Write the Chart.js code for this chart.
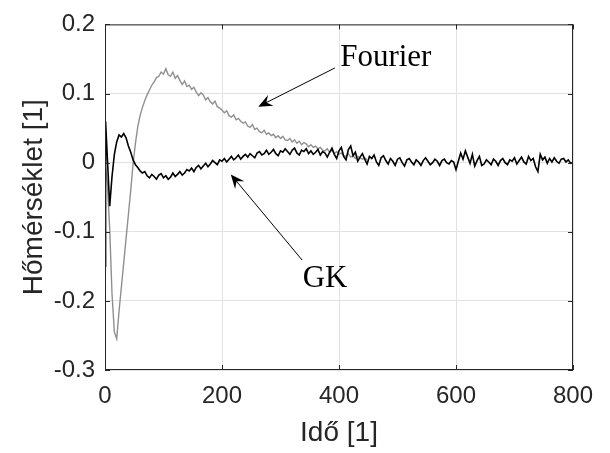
<!DOCTYPE html>
<html>
<head>
<meta charset="utf-8">
<script src="https://cdn.jsdelivr.net/npm/chart.js@4"></script>
<style>
  body { margin: 0; background: #fff; }
  #chart { display: block; }
</style>
</head>
<body>
<canvas id="chart" width="610" height="453"></canvas>
<script>
// GK: two early samples, then every 4 time units from t=8
const gkHeadTime = [0, 1];
const gkHeadVals = [-0.15, 0.06];
const gkStart = 8, gkStep = 4;
const gkVals = [
  -0.063, -0.020, 0.012, 0.030, 0.040, 0.037, 0.042, 0.036, 0.024, 0.015,
  0.004, -0.003, -0.007, -0.012, -0.015, -0.013, -0.019, -0.022, -0.017, -0.020,
  -0.024, -0.018, -0.016, -0.022, -0.019, -0.024, -0.021, -0.015, -0.020, -0.017,
  -0.013, -0.018, -0.015, -0.010, -0.012, -0.008, -0.013, -0.007, -0.004, -0.009,
  -0.005, -0.001, -0.006, -0.002, 0.003, 0.000, -0.003, 0.004, 0.002, 0.006,
  0.001, 0.005, 0.009, 0.004, 0.007, 0.011, 0.005, 0.009, 0.012, 0.008,
  0.013, 0.010, 0.007, 0.014, 0.016, 0.011, 0.013, 0.018, 0.012, 0.015,
  0.019, 0.013, 0.010, 0.017, 0.015, 0.020, 0.016, 0.012, 0.018, 0.021,
  0.014, 0.011, 0.018, 0.016, 0.020, 0.013, 0.017, 0.012, 0.015, 0.019,
  0.011, 0.016, 0.014, 0.008, 0.015, 0.021, 0.012, 0.006, 0.017, 0.022,
  0.009, 0.004, 0.019, 0.024, 0.010, 0.015, 0.002, 0.008, 0.013, 0.005,
  -0.002, 0.009, 0.006, 0.011, 0.001, -0.004, 0.007, 0.010, 0.003, -0.002,
  0.006, 0.002, -0.004, 0.005, 0.007, 0.000, -0.005, 0.004, 0.006, 0.001,
  -0.003, 0.004, 0.001, -0.004, 0.003, 0.007, 0.002, -0.003, 0.000, 0.005,
  0.002, -0.004, 0.003, 0.005, 0.000, -0.002, 0.003, 0.001, -0.010, 0.002,
  0.014, 0.005, 0.017, 0.008, -0.001, 0.012, -0.005, 0.003, 0.009, -0.004,
  -0.002, 0.004, 0.001, -0.003, 0.005, 0.002, -0.004, 0.003, 0.006, 0.000,
  -0.003, 0.004, 0.002, 0.007, -0.002, 0.003, 0.008, 0.001, -0.002, 0.009,
  0.003, 0.006, -0.006, -0.013, 0.012, 0.004, 0.008, -0.001, 0.006, 0.001,
  0.007, 0.002, -0.001, 0.005, 0.006, 0.001, 0.004, -0.001, 0.000
];

// Fourier: every 4 time units from t=0 (it runs under GK after ~450)
const fourierStart = 0, fourierStep = 4;
const fourierVals = [
  0.000, -0.030, -0.095, -0.190, -0.245, -0.255, -0.215, -0.180, -0.145, -0.110,
  -0.075, -0.040, -0.002, 0.028, 0.052, 0.068, 0.080, 0.090, 0.098, 0.105,
  0.112, 0.117, 0.123, 0.125, 0.131, 0.128, 0.136, 0.127, 0.125, 0.131,
  0.122, 0.126, 0.119, 0.113, 0.118, 0.110, 0.112, 0.106, 0.109, 0.102,
  0.097, 0.101, 0.098, 0.091, 0.094, 0.088, 0.085, 0.089, 0.081, 0.079,
  0.076, 0.072, 0.075, 0.068, 0.066, 0.069, 0.062, 0.064, 0.060, 0.057,
  0.059, 0.053, 0.051, 0.055, 0.048, 0.050, 0.045, 0.043, 0.047, 0.041,
  0.043, 0.039, 0.041, 0.036, 0.039, 0.035, 0.038, 0.033, 0.032, 0.035,
  0.030, 0.033, 0.028, 0.031, 0.026, 0.029, 0.027, 0.023, 0.026, 0.022,
  0.024, 0.020, 0.022, 0.018, 0.017, 0.020, 0.015, 0.018, 0.013, 0.016,
  0.012, 0.014, 0.010, 0.009, 0.013, 0.008, 0.010, 0.006, 0.009, 0.007,
  0.005, 0.007, 0.004
];

const xTicks = [0, 200, 400, 600, 800];
const yTicks = [-0.3, -0.2, -0.1, 0, 0.1, 0.2];

// arrow labels, in data coordinates
const notes = [
  { text: 'Fourier', at: [402, 0.152], from: [393, 0.137], to: [262, 0.081] },
  { text: 'GK', at: [338, -0.168], from: [337, -0.141], to: [215, -0.017] }
];

const ink = '#262626';
const sans = '"Liberation Sans", Arial, sans-serif';

let gkPoints = gkHeadTime.map((t, i) => ({ x: t, y: gkHeadVals[i] }));
gkVals.forEach((v, i) => gkPoints.push({ x: gkStart + i * gkStep, y: v }));
let fourierPoints = fourierVals.map((v, i) => ({ x: fourierStart + i * fourierStep, y: v }));

const boxPlugin = {
  id: 'box',
  afterDatasetsDraw(chart) {
    const { ctx, chartArea: a, scales: { x, y } } = chart;
    ctx.save();
    ctx.strokeStyle = ink;
    ctx.lineWidth = 1;
    ctx.strokeRect(a.left + 0.5, a.top + 0.5, a.right - a.left - 1, a.bottom - a.top - 1);
    ctx.beginPath();
    xTicks.forEach(t => {
      let px = Math.round(x.getPixelForValue(t)) + 0.5;
      ctx.moveTo(px, a.bottom); ctx.lineTo(px, a.bottom - 5);
      ctx.moveTo(px, a.top); ctx.lineTo(px, a.top + 5);
    });
    yTicks.forEach(t => {
      let py = Math.round(y.getPixelForValue(t)) + 0.5;
      ctx.moveTo(a.left, py); ctx.lineTo(a.left + 5, py);
      ctx.moveTo(a.right, py); ctx.lineTo(a.right - 5, py);
    });
    ctx.stroke();

    // annotations
    notes.forEach(n => {
      let x0 = x.getPixelForValue(n.from[0]), y0 = y.getPixelForValue(n.from[1]);
      let x1 = x.getPixelForValue(n.to[0]), y1 = y.getPixelForValue(n.to[1]);
      let ang = Math.atan2(y1 - y0, x1 - x0);
      let len = 14, half = 6;
      let bx = x1 - len * Math.cos(ang), by = y1 - len * Math.sin(ang);
      ctx.strokeStyle = '#000';
      ctx.fillStyle = '#000';
      ctx.lineWidth = 1;
      ctx.beginPath();
      ctx.moveTo(x0, y0);
      ctx.lineTo(x1 - 8 * Math.cos(ang), y1 - 8 * Math.sin(ang));
      ctx.stroke();
      ctx.beginPath();
      ctx.moveTo(x1, y1);
      ctx.lineTo(bx - half * Math.sin(ang), by + half * Math.cos(ang));
      ctx.lineTo(x1 - 9 * Math.cos(ang), y1 - 9 * Math.sin(ang));
      ctx.lineTo(bx + half * Math.sin(ang), by - half * Math.cos(ang));
      ctx.closePath();
      ctx.fill();

      ctx.font = '31px "Liberation Serif", "Times New Roman", serif';
      ctx.textAlign = 'left';
      ctx.textBaseline = 'middle';
      ctx.fillText(n.text, x.getPixelForValue(n.at[0]), y.getPixelForValue(n.at[1]));
    });
    ctx.restore();
  }
};

new Chart(document.getElementById('chart'), {
  type: 'line',
  data: {
    datasets: [
      { label: 'GK', data: gkPoints, borderColor: '#000', borderWidth: 1.6, pointRadius: 0, tension: 0 },
      { label: 'Fourier', data: fourierPoints, borderColor: '#8f8f8f', borderWidth: 1.4, pointRadius: 0, tension: 0 }
    ]
  },
  options: {
    responsive: false,
    animation: false,
    events: [],
    layout: { padding: { top: 18, right: 37, left: 0, bottom: 0 } },
    plugins: { legend: { display: false }, tooltip: { enabled: false } },
    scales: {
      x: {
        type: 'linear', min: 0, max: 800,
        afterFit: s => { s.height = 83; },
        afterBuildTicks: s => { s.ticks = xTicks.map(v => ({ value: v })); },
        grid: { color: '#e2e2e2', drawTicks: false },
        border: { display: false },
        ticks: { color: ink, padding: 12, font: { family: sans, size: 24 }, maxRotation: 0 },
        title: { display: true, text: 'Idő [1]', color: ink, font: { family: sans, size: 28 }, padding: { top: 0, bottom: 3 } }
      },
      y: {
        type: 'linear', min: -0.3, max: 0.2,
        afterFit: s => { s.width = 105; },
        afterBuildTicks: s => { s.ticks = yTicks.map(v => ({ value: v })); },
        grid: { color: '#e2e2e2', drawTicks: false },
        border: { display: false },
        ticks: {
          color: ink, padding: 10, font: { family: sans, size: 24 },
          callback: v => String(Math.round(v * 10) / 10)
        },
        title: { display: true, text: 'Hőmérséklet [1]', color: ink, font: { family: sans, size: 28 }, padding: { top: 17, bottom: 0 } }
      }
    }
  },
  plugins: [boxPlugin]
});
</script>
</body>
</html>
